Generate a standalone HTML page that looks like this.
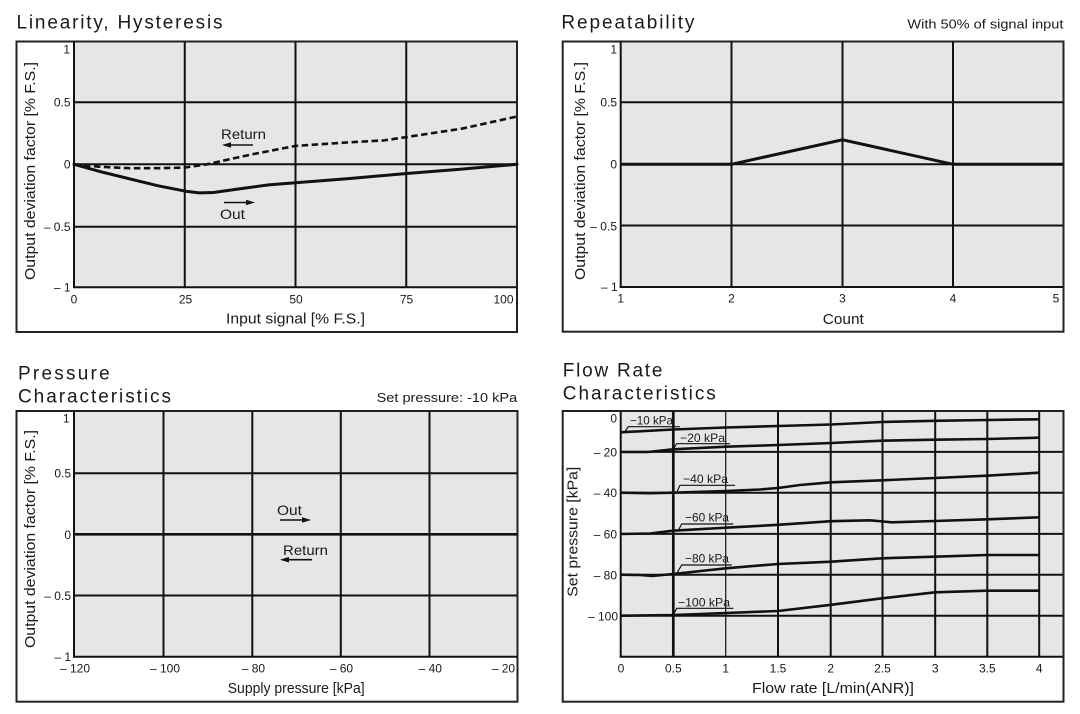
<!DOCTYPE html>
<html>
<head>
<meta charset="utf-8">
<style>
  html,body{margin:0;padding:0;background:#fff;}
  svg{display:block;}
  text{font-family:"Liberation Sans",Arial,sans-serif;fill:#1a1a1a;}
</style>
</head>
<body>
<svg width="1080" height="714" viewBox="0 0 1080 714" xmlns="http://www.w3.org/2000/svg">
<rect width="1080" height="714" fill="#fff"/>

<!-- ================= Chart 1: Linearity, Hysteresis ================= -->
<text x="16.5" y="28.3" font-size="19" textLength="206" lengthAdjust="spacing">Linearity, Hysteresis</text>
<rect x="16.5" y="41.5" width="500.5" height="290.5" fill="#fff" stroke="#222" stroke-width="2"/>
<rect x="74" y="42.5" width="442" height="244.8" fill="#e6e6e8"/>
<g stroke="#111" stroke-width="2" fill="none">
  <line x1="74" y1="41.5" x2="74" y2="288"/>
  <line x1="184.75" y1="41.5" x2="184.75" y2="288"/>
  <line x1="295.5" y1="41.5" x2="295.5" y2="288"/>
  <line x1="406.25" y1="41.5" x2="406.25" y2="288"/>
  <line x1="74" y1="102.3" x2="517" y2="102.3"/>
  <line x1="74" y1="164.3" x2="517" y2="164.3"/>
  <line x1="74" y1="226.7" x2="517" y2="226.7"/>
  <line x1="73" y1="287.3" x2="517" y2="287.3"/>
</g>
<!-- Return dashed -->
<polyline fill="none" stroke="#111" stroke-width="2.6" stroke-dasharray="6.5 3.5" stroke-linejoin="round"
  points="74,164.3 100,166.8 129.4,168.2 160,168.2 184.75,167.6 206.9,164.3 251.2,154.5 295.5,145.9 350.9,142.2 384,140.4 406.25,137.1 461.6,128.7 517,116.5"/>
<!-- Out solid -->
<polyline fill="none" stroke="#111" stroke-width="3" stroke-linejoin="round" stroke-linecap="round"
  points="74,164.3 100.6,171.7 129.4,178.8 158.2,185.8 185.6,191.2 199.4,192.9 213.5,192.5 241,188.6 268.5,184.9 295.5,182.7 350,178.5 406.7,173.5 460,169.3 517,164.3"/>
<text x="221" y="139" font-size="14" textLength="45" lengthAdjust="spacingAndGlyphs">Return</text>
<line x1="230" y1="145" x2="253" y2="145" stroke="#111" stroke-width="1.6"/>
<polygon points="222,145 231,142.2 231,147.8" fill="#111"/>
<text x="220" y="219" font-size="14" textLength="25" lengthAdjust="spacingAndGlyphs">Out</text>
<line x1="224" y1="202.5" x2="247" y2="202.5" stroke="#111" stroke-width="1.6"/>
<polygon points="255,202.5 246,199.7 246,205.3" fill="#111"/>
<g font-size="12" text-anchor="end">
  <text x="70" y="53.6">1</text>
  <text x="70.5" y="106.6">0.5</text>
  <text x="70.5" y="168.6">0</text>
  <text x="70.5" y="231">– 0.5</text>
  <text x="70.5" y="291.6">– 1</text>
</g>
<g font-size="12" text-anchor="middle">
  <text x="74" y="303.3">0</text>
  <text x="185.5" y="303.3">25</text>
  <text x="296" y="303.3">50</text>
  <text x="406.5" y="303.3">75</text>
  <text x="503.5" y="303.3">100</text>
</g>
<text x="295.5" y="323.3" font-size="14.5" text-anchor="middle" textLength="139" lengthAdjust="spacingAndGlyphs">Input signal [% F.S.]</text>
<text transform="translate(35,171) rotate(-90)" font-size="14.5" text-anchor="middle" textLength="218" lengthAdjust="spacingAndGlyphs">Output deviation factor [% F.S.]</text>

<!-- ================= Chart 2: Repeatability ================= -->
<text x="561.4" y="28.3" font-size="19" textLength="133" lengthAdjust="spacing">Repeatability</text>
<text x="1063.4" y="28.5" font-size="13" text-anchor="end" textLength="156" lengthAdjust="spacingAndGlyphs">With 50% of signal input</text>
<rect x="562.7" y="41.5" width="500.8" height="290.2" fill="#fff" stroke="#222" stroke-width="2"/>
<rect x="620.7" y="42.5" width="441.8" height="244.8" fill="#e6e6e8"/>
<g stroke="#111" stroke-width="2" fill="none">
  <line x1="620.7" y1="41.5" x2="620.7" y2="288"/>
  <line x1="731.5" y1="41.5" x2="731.5" y2="288"/>
  <line x1="842.5" y1="41.5" x2="842.5" y2="288"/>
  <line x1="953" y1="41.5" x2="953" y2="288"/>
  <line x1="620.7" y1="102.3" x2="1063" y2="102.3"/>
  <line x1="620.7" y1="164.3" x2="1063" y2="164.3"/>
  <line x1="620.7" y1="225.5" x2="1063" y2="225.5"/>
  <line x1="619.7" y1="287" x2="1063" y2="287"/>
</g>
<polyline fill="none" stroke="#111" stroke-width="3" stroke-linejoin="miter"
  points="620.7,164.3 731.5,164.3 842.5,139.8 953,164.3 1063,164.3"/>
<g font-size="12" text-anchor="end">
  <text x="617" y="53.6">1</text>
  <text x="617" y="106.6">0.5</text>
  <text x="617" y="168.6">0</text>
  <text x="617" y="230.3">– 0.5</text>
  <text x="617.7" y="291">– 1</text>
</g>
<g font-size="12" text-anchor="middle">
  <text x="620.7" y="302.6">1</text>
  <text x="731.5" y="302.6">2</text>
  <text x="842.5" y="302.6">3</text>
  <text x="953" y="302.6">4</text>
  <text x="1056" y="302.6">5</text>
</g>
<text x="843.3" y="323.8" font-size="14.5" text-anchor="middle" textLength="41" lengthAdjust="spacingAndGlyphs">Count</text>
<text transform="translate(585,171) rotate(-90)" font-size="14.5" text-anchor="middle" textLength="218" lengthAdjust="spacingAndGlyphs">Output deviation factor [% F.S.]</text>

<!-- ================= Chart 3: Pressure Characteristics ================= -->
<text x="18" y="379.3" font-size="19" textLength="91.7" lengthAdjust="spacing">Pressure</text>
<text x="18" y="402.5" font-size="19" textLength="153" lengthAdjust="spacing">Characteristics</text>
<text x="517.2" y="402" font-size="13" text-anchor="end" textLength="140.6" lengthAdjust="spacingAndGlyphs">Set pressure: -10 kPa</text>
<rect x="16.5" y="411" width="501" height="290.7" fill="#fff" stroke="#222" stroke-width="2"/>
<rect x="74" y="412" width="442.5" height="244.7" fill="#e6e6e8"/>
<g stroke="#111" stroke-width="2" fill="none">
  <line x1="74" y1="411" x2="74" y2="657.5"/>
  <line x1="163.5" y1="411" x2="163.5" y2="657.5"/>
  <line x1="252.3" y1="411" x2="252.3" y2="657.5"/>
  <line x1="340.8" y1="411" x2="340.8" y2="657.5"/>
  <line x1="429.5" y1="411" x2="429.5" y2="657.5"/>
  <line x1="74" y1="473.2" x2="517" y2="473.2"/>
  <line x1="74" y1="595.5" x2="517" y2="595.5"/>
  <line x1="73" y1="656.7" x2="517" y2="656.7"/>
</g>
<line x1="74" y1="534.3" x2="517" y2="534.3" stroke="#111" stroke-width="2.6"/>
<text x="277" y="515" font-size="14" textLength="25" lengthAdjust="spacingAndGlyphs">Out</text>
<line x1="280" y1="520" x2="303" y2="520" stroke="#111" stroke-width="1.6"/>
<polygon points="311,520 302,517.2 302,522.8" fill="#111"/>
<text x="283" y="555" font-size="14" textLength="45" lengthAdjust="spacingAndGlyphs">Return</text>
<line x1="288" y1="559.7" x2="312" y2="559.7" stroke="#111" stroke-width="1.6"/>
<polygon points="280,559.7 289,556.9 289,562.5" fill="#111"/>
<g font-size="12" text-anchor="end">
  <text x="69.5" y="422.6">1</text>
  <text x="71" y="477.6">0.5</text>
  <text x="71" y="538.8">0</text>
  <text x="71" y="600">– 0.5</text>
  <text x="71" y="661">– 1</text>
</g>
<g font-size="12" text-anchor="middle">
  <text x="75" y="672.6">– 120</text>
  <text x="165" y="672.6">– 100</text>
  <text x="253.4" y="672.6">– 80</text>
  <text x="341.4" y="672.6">– 60</text>
  <text x="430.3" y="672.6">– 40</text>
  <text x="503.4" y="672.6">– 20</text>
</g>
<text x="296.2" y="693.2" font-size="14.5" text-anchor="middle" textLength="137" lengthAdjust="spacingAndGlyphs">Supply pressure [kPa]</text>
<text transform="translate(35,539) rotate(-90)" font-size="14.5" text-anchor="middle" textLength="218" lengthAdjust="spacingAndGlyphs">Output deviation factor [% F.S.]</text>

<!-- ================= Chart 4: Flow Rate Characteristics ================= -->
<text x="562.8" y="376.7" font-size="19" textLength="99.6" lengthAdjust="spacing">Flow Rate</text>
<text x="562.8" y="399.3" font-size="19" textLength="153" lengthAdjust="spacing">Characteristics</text>
<rect x="562.7" y="411" width="500.8" height="290.7" fill="#fff" stroke="#222" stroke-width="2"/>
<rect x="620.7" y="412" width="441.8" height="244.7" fill="#e6e6e8"/>
<g stroke="#111" stroke-width="2" fill="none">
  <line x1="620.7" y1="411" x2="620.7" y2="657.5"/>
  <line x1="778" y1="411" x2="778" y2="657.5"/>
  <line x1="830.7" y1="411" x2="830.7" y2="657.5"/>
  <line x1="882.5" y1="411" x2="882.5" y2="657.5"/>
  <line x1="935.2" y1="411" x2="935.2" y2="657.5"/>
  <line x1="987.3" y1="411" x2="987.3" y2="657.5"/>
  <line x1="1039.2" y1="411" x2="1039.2" y2="657.5"/>
  <line x1="620.7" y1="451.9" x2="1063" y2="451.9"/>
  <line x1="620.7" y1="492.8" x2="1063" y2="492.8"/>
  <line x1="620.7" y1="533.9" x2="1063" y2="533.9"/>
  <line x1="620.7" y1="574.8" x2="1063" y2="574.8"/>
  <line x1="620.7" y1="615.7" x2="1063" y2="615.7"/>
  <line x1="619.7" y1="656.7" x2="1063" y2="656.7"/>
</g>
<line x1="673.3" y1="411" x2="673.3" y2="657.5" stroke="#111" stroke-width="2.7"/>
<line x1="725.7" y1="411" x2="725.7" y2="657.5" stroke="#111" stroke-width="1.2"/>
<g fill="none" stroke="#111" stroke-width="2.6" stroke-linejoin="round">
  <polyline points="620.7,432.3 673,429.5 726,427.5 778,426 831,424.5 882,422 935,420.8 987,420 1039.2,419.3"/>
  <polyline points="620.7,452 648,452 673,449.3 726,446.7 778,445 831,443 882,440.7 935,439.7 987,439 1039.2,437.7"/>
  <polyline points="620.7,492.7 650,493.2 673,492.7 726,491 760,489.5 778,488 800,485 831,482.3 882,480.3 935,478 987,475.7 1039.2,472.7"/>
  <polyline points="620.7,534 650,533.5 673,530.7 726,527.7 778,524.8 831,521.2 870,520.3 892,522.3 935,521 987,519.3 1039.2,517.3"/>
  <polyline points="620.7,574.7 640,575 652,576 673,574 726,568.3 778,564 831,561.7 882,558.3 935,556.7 987,555 1039.2,555"/>
  <polyline points="620.7,615.7 673,615 726,613 778,611 831,604.8 882,598.3 935,592.3 987,590.7 1039.2,590.7"/>
</g>
<!-- leader lines -->
<g fill="none" stroke="#111" stroke-width="1.2">
  <polyline points="625,431.5 628.3,426.7 680,426.7"/>
  <polyline points="673,449.3 676.7,443.7 730,443.7"/>
  <polyline points="676.7,492.3 680,485.3 735,485.3"/>
  <polyline points="678.3,530.5 681.7,524 733.3,524"/>
  <polyline points="676.7,573.5 681.7,565 731.7,565"/>
  <polyline points="673.3,615 676.7,608.3 733.3,608.3"/>
</g>
<g font-size="12">
  <text x="630" y="424.3" textLength="43" lengthAdjust="spacingAndGlyphs">−10 kPa</text>
  <text x="680" y="441.8" textLength="45" lengthAdjust="spacingAndGlyphs">−20 kPa</text>
  <text x="683" y="483.2" textLength="45" lengthAdjust="spacingAndGlyphs">−40 kPa</text>
  <text x="685" y="521.6" textLength="44" lengthAdjust="spacingAndGlyphs">−60 kPa</text>
  <text x="685" y="562.6" textLength="44" lengthAdjust="spacingAndGlyphs">−80 kPa</text>
  <text x="678" y="606.5" textLength="52" lengthAdjust="spacingAndGlyphs">−100 kPa</text>
</g>
<g font-size="12" text-anchor="end">
  <text x="617" y="422.6">0</text>
  <text x="617" y="456.5">– 20</text>
  <text x="617" y="497.1">– 40</text>
  <text x="617" y="538.3">– 60</text>
  <text x="617" y="579.3">– 80</text>
  <text x="618" y="620.3">– 100</text>
</g>
<g font-size="12" text-anchor="middle">
  <text x="621" y="672.6">0</text>
  <text x="673.3" y="672.6">0.5</text>
  <text x="725.7" y="672.6">1</text>
  <text x="778" y="672.6">1.5</text>
  <text x="830.7" y="672.6">2</text>
  <text x="882.5" y="672.6">2.5</text>
  <text x="935.2" y="672.6">3</text>
  <text x="987.3" y="672.6">3.5</text>
  <text x="1039.2" y="672.6">4</text>
</g>
<text x="833" y="693.2" font-size="14.5" text-anchor="middle" textLength="162" lengthAdjust="spacingAndGlyphs">Flow rate [L/min(ANR)]</text>
<text transform="translate(577.5,531.7) rotate(-90)" font-size="14.5" text-anchor="middle" textLength="130" lengthAdjust="spacingAndGlyphs">Set pressure [kPa]</text>

</svg>
</body>
</html>
